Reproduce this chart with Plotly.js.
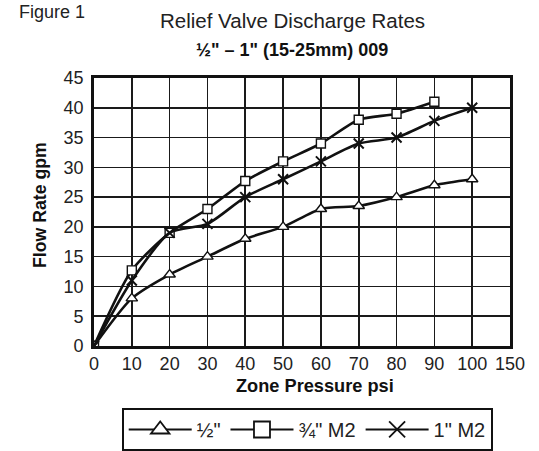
<!DOCTYPE html>
<html>
<head>
<meta charset="utf-8">
<script src="https://cdn.plot.ly/plotly-3.0.1.min.js"></script>
<style>html,body{margin:0;padding:0;background:#fff;}#chart{width:539px;height:451px;}</style>
</head>
<body>
<div id="chart"></div>
<script>
// Pressure (psi); the last axis tick reads "150" although it sits one step after 100
const pressure = [0, 10, 20, 30, 40, 50, 60, 70, 80, 90, 100];
const half = [0, 8, 12, 15, 18, 20, 23, 23.5, 25, 27, 28];
const threeQuarterM2 = [0, 12.7, 19, 23, 27.7, 31, 34, 38, 39, 41];
const oneM2 = [0, 11, 19, 20.5, 25, 28, 31, 34, 35, 37.8, 40];
const xTickVals = [0, 10, 20, 30, 40, 50, 60, 70, 80, 90, 100, 110];
const xTickText = ['0', '10', '20', '30', '40', '50', '60', '70', '80', '90', '100', '150'];
const yTickVals = [0, 5, 10, 15, 20, 25, 30, 35, 40, 45];
const seriesNames = ['\u00BD"', '\u00BE" M2', '1" M2'];

const FONT = 'Liberation Sans, Arial, sans-serif';

const lineStyle = {color: '#111', width: 2.6, shape: 'spline', smoothing: 0.7};
const symbols = [
  {symbol: 'triangle-up', color: '#fff', line: {color: '#111', width: 1.4}},
  {symbol: 'square', color: '#fff', line: {color: '#111', width: 1.4}},
  {symbol: 'x-thin', color: '#111', line: {color: '#111', width: 2}}
];
const series = [half, threeQuarterM2, oneM2];

const traces = [];
series.forEach((ys, i) => {
  traces.push({x: pressure.slice(0, ys.length), y: ys, name: seriesNames[i], mode: 'lines+markers',
    showlegend: false, line: lineStyle,
    marker: Object.assign({size: i === 1 ? 9 : 10}, symbols[i])});
});
// legend entries (larger symbols, as in the printed key)
series.forEach((ys, i) => {
  const m = Object.assign({size: 16}, symbols[i]);
  m.line = {color: '#111', width: 1.8};
  traces.push({x: [null], y: [null], name: seriesNames[i], mode: 'lines+markers',
    showlegend: true, line: {color: '#111', width: 2}, marker: m});
});

const layout = {
  width: 539, height: 451,
  margin: {l: 94, r: 29, t: 78, b: 105, autoexpand: false},
  paper_bgcolor: '#fff', plot_bgcolor: '#fff',
  font: {family: FONT, size: 18, color: '#222'},
  showlegend: true,
  legend: {orientation: 'h', x: 0.513, xanchor: 'center', y: -0.232, yanchor: 'top',
    bordercolor: '#111', borderwidth: 1.8, font: {family: FONT, size: 20, color: '#222'},
    itemwidth: 63, tracegroupgap: 0, itemsizing: 'trace'},
  xaxis: {range: [0, 110], tickvals: xTickVals, ticktext: xTickText, showgrid: true,
    gridcolor: '#1a1a1a', gridwidth: 1.6, showline: true, linecolor: '#111', linewidth: 2.8, mirror: true,
    ticks: '', zeroline: false, ticklabelstandoff: 0, tickfont: {size: 18, color: '#222'}},
  yaxis: {range: [0, 45], tickvals: yTickVals, showgrid: true,
    gridcolor: '#1a1a1a', gridwidth: 1.6, showline: true, linecolor: '#111', linewidth: 2.8, mirror: true,
    ticks: '', zeroline: false, ticklabelstandoff: 4, tickfont: {size: 18, color: '#222'}},
  annotations: [
    {text: 'Figure 1', xref: 'paper', yref: 'paper', x: -0.185, y: 1.29, xanchor: 'left', yanchor: 'top',
     showarrow: false, font: {family: FONT, size: 18, color: '#222'}},
    {text: 'Relief Valve Discharge Rates', xref: 'paper', yref: 'paper', x: 0.476, y: 1.216, xanchor: 'center', yanchor: 'middle',
     showarrow: false, font: {family: FONT, size: 20.5, color: '#222'}},
    {text: '<b>\u00BD" \u2013 1" (15-25mm) 009</b>', xref: 'paper', yref: 'paper', x: 0.476, y: 1.104, xanchor: 'center', yanchor: 'middle',
     showarrow: false, font: {family: FONT, size: 18, color: '#111'}},
    {text: '<b>Zone Pressure psi</b>', xref: 'paper', yref: 'paper', x: 0.531, y: -0.149, xanchor: 'center', yanchor: 'middle',
     showarrow: false, font: {family: FONT, size: 18.2, color: '#111'}},
    {text: '<b>Flow Rate gpm</b>', xref: 'paper', yref: 'paper', x: -0.13, y: 0.526, xanchor: 'center', yanchor: 'middle',
     textangle: -90, showarrow: false, font: {family: FONT, size: 17.7, color: '#111'}}
  ]
};

Plotly.newPlot('chart', traces, layout, {displayModeBar: false, staticPlot: true});
</script>
</body>
</html>
